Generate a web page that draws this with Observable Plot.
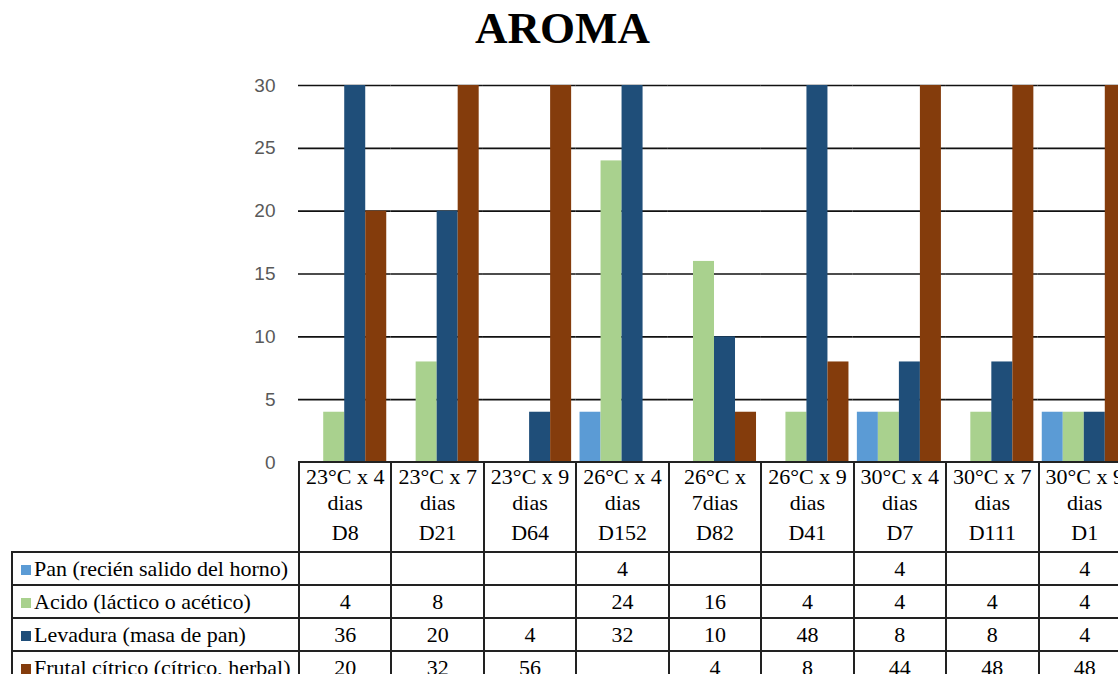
<!DOCTYPE html>
<html>
<head>
<meta charset="utf-8">
<script src="https://cdn.jsdelivr.net/npm/d3@7"></script>
<script src="https://cdn.jsdelivr.net/npm/@observablehq/plot@0.6"></script>
<style>
html, body { margin: 0; padding: 0; overflow: hidden; background: #fff; width: 1118px; height: 674px; }
#title { width: 1125px; height: 50px; line-height: 56px; text-align: center; font-family: "Liberation Serif", "Times New Roman", serif; font-weight: bold; font-size: 45px; color: #000; overflow: visible; }
#chart { width: 1130px; height: 424px; }
#chart svg { max-width: none !important; display: block; }
#tbl { border-collapse: collapse; table-layout: fixed; color: #000; margin-top: -13px; position: relative; }
#tbl th, #tbl td { font-family: "Liberation Serif", "Times New Roman", serif; font-size: 22px; border: 2px solid #222; padding: 0; font-weight: normal; white-space: nowrap; overflow: hidden; color: #000; }
#tbl th.blank { border: none; }
#tbl th { vertical-align: top; text-align: center; height: 88px; white-space: normal; }
#tbl th .l12 { line-height: 26px; padding-top: 1px; }
#tbl th .l3 { line-height: 34px; }
#tbl td { height: 31px; text-align: center; vertical-align: middle; }
#tbl td.lab { text-align: left; padding-left: 8px; }
#tbl .sw { display: inline-block; width: 10px; height: 10px; margin-right: 3px; vertical-align: 1px; }
</style>
</head>
<body>
<div id="title">AROMA</div>
<div id="chart"></div>
<table id="tbl"></table>
<script>
const categories = ["23°C x 4 dias","23°C x 7 dias","23°C x 9 dias","26°C x 4 dias","26°C x 7dias","26°C x 9 dias","30°C x 4 dias","30°C x 7 dias","30°C x 9 dias"];
const codes = ["D8","D21","D64","D152","D82","D41","D7","D111","D1"];
const series = ["Pan (recién salido del horno)","Acido (láctico o acético)","Levadura (masa de pan)","Frutal cítrico (cítrico, herbal)"];
const pan      = [null, null, null, 4, null, null, 4, null, 4];
const acido    = [4, 8, null, 24, 16, 4, 4, 4, 4];
const levadura = [36, 20, 4, 32, 10, 48, 8, 8, 4];
const frutal   = [20, 32, 56, null, 4, 8, 44, 48, 48];
const colors = ["#5B9BD5", "#A9D18E", "#1F4E79", "#843C0C"];
const yTicks = [0, 5, 10, 15, 20, 25, 30];
const gridTicks = [5, 10, 15, 20, 25, 30];

const valuesBySeries = [pan, acido, levadura, frutal];
const data = [];
categories.forEach((c, i) => {
  series.forEach((s, j) => {
    const v = valuesBySeries[j][i];
    if (v != null) data.push({cat: c, series: s, value: v});
  });
});

const chart = Plot.plot({
  width: 1130,
  height: 424,
  marginTop: 35,
  marginBottom: 12,
  marginLeft: 298,
  marginRight: 0,
  style: {fontFamily: "'Liberation Sans', Arial, sans-serif", fontSize: "19px", color: "#595959", background: "transparent"},
  fx: {domain: categories, padding: 0, round: false, axis: null},
  x: {domain: series, paddingInner: 0, paddingOuter: 0.2, round: false, axis: null},
  y: {domain: [0, 30], ticks: yTicks, tickSize: 0, tickPadding: 23, label: null},
  color: {domain: series, range: colors},
  marks: [
    Plot.ruleY(gridTicks, {stroke: "#111", strokeWidth: 1.6}),
    Plot.barY(data, {fx: "cat", x: "series", y: "value", fill: "series", clip: true})
  ]
});
document.getElementById("chart").appendChild(chart);

// Build the data table aligned with the chart's fx scale
const fxs = chart.scale("fx");
const tableLeft = 11;
const firstX = fxs.apply(categories[0]);
const step = fxs.bandwidth;
const tbl = document.getElementById("tbl");
tbl.style.marginLeft = tableLeft + "px";
const labW = firstX - tableLeft;
tbl.style.width = (labW + step * categories.length) + "px";
let html = "<colgroup><col style='width:" + labW + "px'>";
categories.forEach(() => { html += "<col style='width:" + step + "px'>"; });
html += "</colgroup><tr><th class='blank'></th>";
categories.forEach((c, i) => {
  html += "<th><div class='l12'>" + c + "</div><div class='l3'>" + codes[i] + "</div></th>";
});
html += "</tr>";
series.forEach((s, j) => {
  html += "<tr><td class='lab'><span class='sw' style='background:" + colors[j] + "'></span>" + s + "</td>";
  valuesBySeries[j].forEach(v => { html += "<td>" + (v == null ? "" : v) + "</td>"; });
  html += "</tr>";
});
tbl.innerHTML = html;
</script>
</body>
</html>
